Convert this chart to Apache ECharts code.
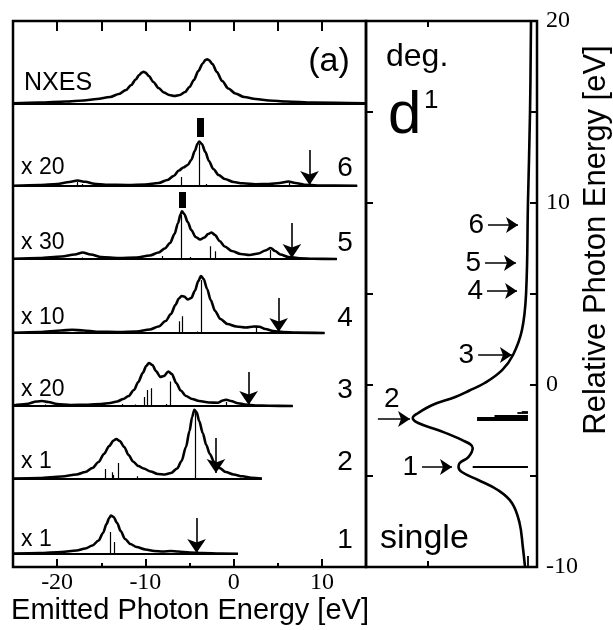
<!DOCTYPE html>
<html>
<head>
<meta charset="utf-8">
<script src="https://cdn.jsdelivr.net/npm/echarts@6/dist/echarts.min.js"></script>
<style>
html,body{margin:0;padding:0;background:#fff}
#chart{width:613px;height:630px}
</style>
</head>
<body>
<div id="chart"></div>
<script>
// emission spectra, [emitted photon energy eV, intensity above own baseline]
var spec1 = [[-25,0.5],[-22,1],[-19.5,2],[-17.8,3.5],[-16.8,5.5],[-16,8.5],[-15.3,13.5],[-14.8,21],[-14.4,30],[-14.1,36],[-13.9,38.5],[-13.6,37],[-13.2,31],[-12.8,23],[-12.3,15],[-11.7,10],[-11,7],[-10,4.5],[-9,3],[-8,2.5],[-7.1,3],[-6.3,2.5],[-5,1.5],[-3.5,1],[-1.5,0.5],[0.5,0.3]];
var spec2 = [[-25,0.5],[-22,1],[-19.5,2.5],[-17.8,4.5],[-16.8,7],[-16,11],[-15.3,17],[-14.7,25],[-14.1,33],[-13.6,38.5],[-13.3,40],[-12.9,38],[-12.4,32],[-11.9,24],[-11.4,17.5],[-10.8,13],[-10.2,10.5],[-9.4,7.5],[-8.6,5],[-7.8,4.5],[-7.1,6],[-6.4,10.5],[-5.9,18],[-5.4,32],[-5.0,48],[-4.7,62],[-4.45,69.3],[-4.2,67],[-3.9,58],[-3.5,46],[-3.1,34],[-2.7,25],[-2.2,17],[-1.6,11],[-0.9,7],[0,4.5],[1,2.7],[2,1.3],[3.2,0.5]];
var spec3 = [[-25,0.5],[-23.5,2],[-22.3,4.5],[-21.7,5],[-21,4],[-20,2],[-18.5,1],[-16.5,1.2],[-15,2],[-14,3],[-13.2,4.5],[-12.5,7],[-11.9,10],[-11.3,16],[-10.8,24],[-10.3,33],[-9.9,40],[-9.6,43],[-9.2,41],[-8.8,35],[-8.3,29],[-7.9,30],[-7.4,34.5],[-7.0,32],[-6.5,23],[-6,15.5],[-5.4,10],[-4.7,7],[-3.9,5],[-2.8,3.5],[-1.8,3.3],[-1.2,5.5],[-0.8,6.3],[-0.3,5],[0.5,2.8],[1.3,1.5],[2.5,0.5],[4,0.2],[6.7,0]];
var spec4 = [[-25,0.3],[-22,1],[-19.5,2.5],[-18.3,3.3],[-17,2.5],[-15.5,1.3],[-13,1],[-11,1.5],[-9.5,3.5],[-8.5,6.5],[-7.7,12],[-7.1,19],[-6.6,28],[-6.2,34.5],[-5.9,37],[-5.6,36.5],[-5.2,33.5],[-4.8,35],[-4.4,42],[-4.0,52],[-3.7,57],[-3.4,54],[-3.0,44],[-2.6,33],[-2.1,22],[-1.5,14],[-0.7,9],[0.3,6.5],[1.4,5.5],[2.3,6.5],[2.9,6.3],[3.6,4],[4.5,2],[5.6,1],[7,0.4],[10.3,0]];
var spec5 = [[-25,0.3],[-22,1],[-19.5,2.5],[-18,4.5],[-17.1,6.5],[-16.2,4.5],[-15,2],[-13,1],[-11,1.5],[-9.5,3.5],[-8.5,6.5],[-7.8,10.5],[-7.2,16],[-6.7,25],[-6.3,36],[-6.0,45],[-5.85,47.7],[-5.6,45],[-5.2,37],[-4.8,29],[-4.3,22],[-3.8,19.5],[-3.3,21.5],[-2.9,25],[-2.5,26.5],[-2.1,24],[-1.6,18],[-1,12.5],[-0.2,8],[0.8,5],[1.8,4],[2.8,5.5],[3.6,8.5],[4.2,11],[4.7,8],[5.3,4.5],[6.2,2],[7.5,0.7],[9,0.2],[11.7,0]];
var spec6 = [[-25,0.3],[-22,1],[-20,2],[-18.6,4],[-17.7,5.5],[-16.8,4.2],[-15.8,2.2],[-14.5,1.2],[-12,1],[-10,1.5],[-8.5,3],[-7.5,6],[-6.8,10],[-6.2,15.5],[-5.7,18.5],[-5.2,21],[-4.8,26],[-4.4,35],[-4.1,42],[-3.9,44.5],[-3.6,42],[-3.2,34],[-2.8,25],[-2.3,17],[-1.7,11],[-1,7],[0,4],[1,2.7],[2.5,1.8],[4,2],[5.2,3],[6.2,4.5],[7,3],[8,1.3],[9.5,0.5],[14,0.2]];
var nxes = [[-25,0.7],[-22,1.5],[-19,2.5],[-17,3.5],[-15.5,5],[-14,7],[-13,10],[-12.2,14],[-11.6,19],[-11.1,24.5],[-10.7,29],[-10.4,31.5],[-10.2,32.3],[-10.0,31.5],[-9.6,28],[-9.1,22],[-8.5,16],[-7.9,11.5],[-7.3,9],[-6.7,8],[-6.1,9],[-5.5,12],[-5,17],[-4.5,24],[-4,33],[-3.5,40.5],[-3.2,44],[-3.0,44.7],[-2.8,44],[-2.4,40],[-1.9,32],[-1.3,23],[-0.6,15.5],[0.2,10.5],[1.2,7],[2.5,5],[4,3.5],[6,2.5],[9,1.5],[15,0.7]];

// order bottom to top: 1..6, NXES
var spectra = [spec1, spec2, spec3, spec4, spec5, spec6, nxes];
var offsets = [13, 88, 161, 234, 308, 381, 463];
var baseEnds = [0.5, 3.2, 6.7, 10.3, 11.7, 14, 15];
var scaleLabels = ['x 1', 'x 1', 'x 20', 'x 10', 'x 30', 'x 20'];

// discrete transitions [energy, height] per spectrum
var sticks = [
  [[-13.95,22],[-13.5,12]],
  [[-14.5,10],[-13.8,6.7],[-13.6,4],[-13.1,16],[-10.9,2.7],[-4.4,67.7]],
  [[-21.4,1.5],[-12.6,2],[-11.2,1.5],[-10.1,9],[-9.8,16],[-9.35,17.7],[-7.6,2],[-7.2,24.5],[-0.8,4]],
  [[-18,1],[-7.0,1],[-6.2,11.7],[-5.8,16.7],[-4.1,1.5],[-3.7,53],[2.6,6]],
  [[-17.1,1.5],[-8.1,3],[-5.9,44],[-4.9,2],[-2.6,12.7],[-2.1,7.7],[4.2,9]],
  [[-17.7,4],[-17.2,2],[-5.9,9],[-3.9,42],[-3.1,2],[6.3,3]]
];
// thick markers: [spectrum index, energy, from, to]
var markers = [[4, -5.85, 51, 67], [5, -3.8, 49, 68]];
// elastic line arrows: [energy, top, tip]
var elastic = [[-4.2,36,1],[-2.0,41,6],[1.7,34,1],[5.1,35,1],[6.6,36,1],[8.6,36,1]];

var majorTicks = [-20, -10, 0, 10];
var minorTicks = [-15, -5, 5];

// absorption spectrum, [intensity, relative photon energy eV]
var absorption = [[0.055,20],[0.064,15],[0.083,10],[0.10,5.05],[0.138,3.02],[0.22,1.65],[0.32,0.82],[0.48,0.11],[0.62,-0.3],[0.75,-0.66],[0.96,-1.1],[1.09,-1.54],[1.14,-1.81],[1.09,-2.09],[0.91,-2.47],[0.69,-3.02],[0.59,-3.46],[0.63,-3.96],[0.71,-4.29],[0.72,-4.51],[0.69,-4.78],[0.54,-5.22],[0.36,-5.77],[0.23,-6.48],[0.16,-7.58],[0.13,-8.9],[0.11,-10]];
// absorption transitions [energy, intensity]
var absSticks = [[-4.5,0.59],[-1.9,0.55],[-1.8,0.55],[-1.7,0.39],[-1.55,0.18],[-1.45,0.14]];
var stickBase = 0.083;
// excitation energies and arrow span [energy, from, to]
var excite = [[-4.51,1.055,0.78],[-1.87,1.46,1.165],[1.65,0.54,0.23],[5.16,0.459,0.183],[6.70,0.477,0.193],[8.79,0.45,0.174]];
var exciteNames = ['1', '2', '3', '4', '5', '6'];

var sans = 'Liberation Sans, Arial, sans-serif';
var serif = 'Liberation Serif, Times New Roman, serif';

var chart = echarts.init(document.getElementById('chart'));

var series = [];
spectra.forEach(function (s, i) {
  var b = offsets[i];
  series.push({
    type: 'line', xAxisIndex: 0, yAxisIndex: 0, symbol: 'none',
    data: [[-25, b], [baseEnds[i], b]],
    lineStyle: {color: '#000', width: 2}
  });
  series.push({
    type: 'line', xAxisIndex: 0, yAxisIndex: 0, symbol: 'none',
    smooth: 0.3, smoothMonotone: 'x',
    data: s.map(function (p) { return [p[0], b + p[1]]; }),
    lineStyle: {color: '#000', width: 2.6}
  });
});

var stickData = [];
sticks.forEach(function (list, i) {
  list.forEach(function (p) {
    stickData.push({coords: [[p[0], offsets[i]], [p[0], offsets[i] + p[1]]]});
  });
});
series.push({
  type: 'lines', coordinateSystem: 'cartesian2d', xAxisIndex: 0, yAxisIndex: 0,
  data: stickData, lineStyle: {color: '#000', width: 1.2, opacity: 1}
});
series.push({
  type: 'lines', coordinateSystem: 'cartesian2d', xAxisIndex: 0, yAxisIndex: 0,
  data: markers.map(function (m) {
    return {coords: [[m[1], offsets[m[0]] + m[2]], [m[1], offsets[m[0]] + m[3]]]};
  }),
  lineStyle: {color: '#000', width: 7, opacity: 1, cap: 'butt'}
});
series.push({
  type: 'lines', coordinateSystem: 'cartesian2d', xAxisIndex: 0, yAxisIndex: 0,
  symbol: ['none', 'arrow'], symbolSize: [0, 14],
  data: elastic.map(function (a, i) {
    return {coords: [[a[0], offsets[i] + a[1]], [a[0], offsets[i] + a[2]]]};
  }),
  lineStyle: {color: '#000', width: 1.6, opacity: 1}
});

// right panel
series.push({
  type: 'line', xAxisIndex: 2, yAxisIndex: 1, symbol: 'none',
  smooth: 0.4,
  data: absorption,
  lineStyle: {color: '#000', width: 2.6}
});
series.push({
  type: 'lines', coordinateSystem: 'cartesian2d', xAxisIndex: 2, yAxisIndex: 1,
  data: absSticks.map(function (p) {
    return {coords: [[stickBase, p[0]], [p[1], p[0]]]};
  }).concat([{coords: [[stickBase, -10], [stickBase, -9.4]]}]),
  lineStyle: {color: '#000', width: 1.8, opacity: 1}
});
series.push({
  type: 'lines', coordinateSystem: 'cartesian2d', xAxisIndex: 2, yAxisIndex: 1,
  symbol: ['none', 'arrow'], symbolSize: [0, 12],
  data: excite.map(function (a, i) {
    return {
      coords: [[a[1], a[0]], [a[2], a[0]]],
      label: {show: true, position: i === 1 ? 'insideStartTop' : 'start', formatter: exciteNames[i],
        distance: i === 1 ? 6 : 4, fontFamily: sans, fontSize: 28, color: '#000'}
    };
  }),
  lineStyle: {color: '#000', width: 1.6, opacity: 1}
});

var graphic = [
  {type: 'text', x: 329, y: 62, style: {text: '(a)', font: '34px ' + sans, fill: '#000', align: 'center', verticalAlign: 'middle'}},
  {type: 'text', x: 24, y: 83, style: {text: 'NXES', font: '25px ' + sans, fill: '#000', align: 'left', verticalAlign: 'middle'}},
  {type: 'text', x: 386, y: 57, style: {text: 'deg.', font: '32px ' + sans, fill: '#000', align: 'left', verticalAlign: 'middle'}},
  {type: 'text', x: 388, y: 116, style: {text: 'd', font: '60px ' + sans, fill: '#000', align: 'left', verticalAlign: 'middle'}},
  {type: 'text', x: 424, y: 101, style: {text: '1', font: '26px ' + sans, fill: '#000', align: 'left', verticalAlign: 'middle'}},
  {type: 'text', x: 380, y: 539, style: {text: 'single', font: '34px ' + sans, fill: '#000', align: 'left', verticalAlign: 'middle'}},
  {type: 'text', x: 190, y: 611, style: {text: 'Emitted Photon Energy [eV]', font: '29px ' + sans, fill: '#000', align: 'center', verticalAlign: 'middle'}},
  {type: 'text', x: 596, y: 240, rotation: Math.PI / 2, style: {text: 'Relative Photon Energy [eV]', font: '31px ' + sans, fill: '#000', align: 'center', verticalAlign: 'middle'}}
];
var labelY = [540, 462, 390, 318, 243, 168];
scaleLabels.forEach(function (t, i) {
  graphic.push({type: 'text', x: 21, y: labelY[i], style: {text: t, font: '23px ' + sans, fill: '#000', align: 'left', verticalAlign: 'middle'}});
  graphic.push({type: 'text', x: 345, y: labelY[i], style: {text: String(i + 1), font: '28px ' + sans, fill: '#000', align: 'center', verticalAlign: 'middle'}});
});

function leftAxis(pos, values, len, labels) {
  return {type: 'value', gridIndex: 0, min: -25, max: 15, position: pos,
    axisLine: {show: false, onZero: false}, splitLine: {show: false},
    axisTick: {show: true, inside: true, length: len, customValues: values, lineStyle: {color: '#000', width: 2}},
    axisLabel: labels ? {show: true, customValues: values, fontFamily: serif, fontSize: 24, color: '#000', margin: 4}
                      : {show: false}};
}
function rightX(pos) {
  return {type: 'value', gridIndex: 1, min: 0, max: 1.569, interval: 1, inverse: true, position: pos,
    axisLine: {show: false, onZero: false}, splitLine: {show: false},
    axisTick: {show: true, inside: true, length: 6, lineStyle: {color: '#000', width: 2}}, axisLabel: {show: false}};
}
function rightY(pos, labels) {
  return {type: 'value', gridIndex: 1, min: -10, max: 20, interval: 10, position: pos,
    axisLine: {show: false, onZero: false}, splitLine: {show: false},
    axisTick: {show: true, inside: true, length: 7, lineStyle: {color: '#000', width: 2}},
    minorTick: {show: true, splitNumber: 2, length: 7, lineStyle: {color: '#000', width: 2}},
    axisLabel: labels ? {fontFamily: serif, fontSize: 24, color: '#000', margin: 9} : {show: false}};
}

var option = {
  animation: false,
  backgroundColor: '#fff',
  grid: [
    {left: 13, top: 21, width: 353, height: 546, show: true, borderColor: '#000', borderWidth: 2.5, backgroundColor: 'transparent'},
    {left: 366, top: 21, width: 171, height: 546, show: true, borderColor: '#000', borderWidth: 2.5, backgroundColor: 'transparent'}
  ],
  xAxis: [
    leftAxis('bottom', majorTicks, 8, true),
    leftAxis('bottom', minorTicks, 4, false),
    rightX('bottom'),
    rightX('top'),
    leftAxis('top', majorTicks, 10, false),
    leftAxis('top', minorTicks, 10, false)
  ],
  yAxis: [
    {type: 'value', gridIndex: 0, min: 0, max: 546, show: false},
    rightY('right', true),
    rightY('left', false)
  ],
  series: series,
  graphic: graphic
};
chart.setOption(option);
</script>
</body>
</html>
